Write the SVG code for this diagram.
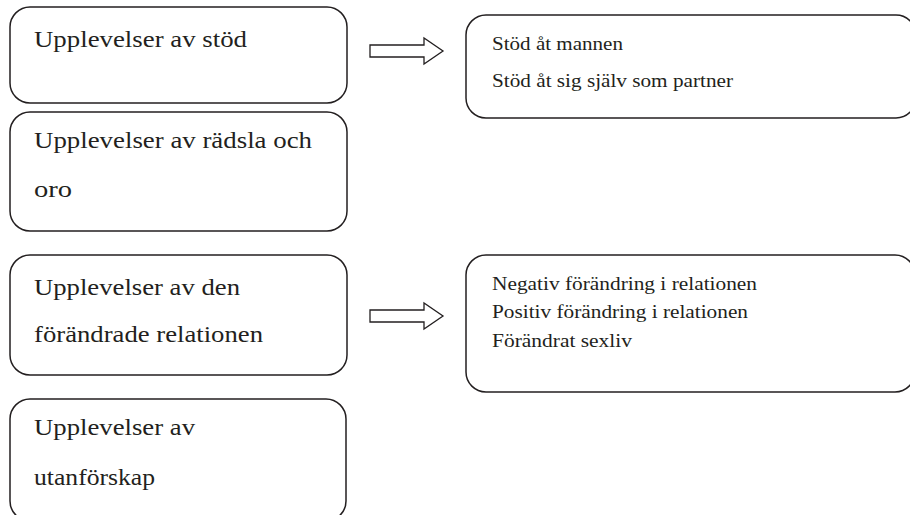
<svg xmlns="http://www.w3.org/2000/svg" width="910" height="515" viewBox="0 0 910 515">
<style>
.box{fill:#fff;stroke:#231f20;stroke-width:1.5}
.arr{fill:#fff;stroke:#231f20;stroke-width:1.3;stroke-linejoin:miter}
.big{font-family:"Liberation Serif","Times New Roman",serif;font-size:24px;fill:#231f20}
.sm{font-family:"Liberation Serif","Times New Roman",serif;font-size:18px;fill:#231f20}
</style>
<rect width="910" height="515" fill="#fff"/>
<g id="n1"><rect class="box" x="10" y="7" width="337" height="96" rx="20"/><text class="big" x="34" y="47" textLength="213" lengthAdjust="spacingAndGlyphs">Upplevelser av stöd</text></g>
<g id="n2"><rect class="box" x="10" y="112" width="337" height="119" rx="20"/><text class="big" x="34" y="148" textLength="278" lengthAdjust="spacingAndGlyphs">Upplevelser av rädsla och</text><text class="big" x="34" y="197" textLength="38" lengthAdjust="spacingAndGlyphs">oro</text></g>
<g id="n3"><rect class="box" x="10" y="255" width="337" height="120" rx="20"/><text class="big" x="34" y="295" textLength="206" lengthAdjust="spacingAndGlyphs">Upplevelser av den</text><text class="big" x="34" y="342" textLength="229" lengthAdjust="spacingAndGlyphs">förändrade relationen</text></g>
<g id="n4"><rect class="box" x="10" y="399" width="336" height="122" rx="20"/><text class="big" x="34" y="435" textLength="161" lengthAdjust="spacingAndGlyphs">Upplevelser av</text><text class="big" x="34" y="485" textLength="121" lengthAdjust="spacingAndGlyphs">utanförskap</text></g>
<g id="n5"><rect class="box" x="466" y="15" width="450" height="103" rx="20"/><text class="sm" x="492" y="50" textLength="131" lengthAdjust="spacingAndGlyphs">Stöd åt mannen</text><text class="sm" x="492" y="87" textLength="241" lengthAdjust="spacingAndGlyphs">Stöd åt sig själv som partner</text></g>
<g id="n6"><rect class="box" x="466" y="255" width="449" height="137" rx="20"/><text class="sm" x="492" y="290" textLength="265" lengthAdjust="spacingAndGlyphs">Negativ förändring i relationen</text><text class="sm" x="492" y="318" textLength="256" lengthAdjust="spacingAndGlyphs">Positiv förändring i relationen</text><text class="sm" x="492" y="347" textLength="140" lengthAdjust="spacingAndGlyphs">Förändrat sexliv</text></g>
<g id="connectors">
<polygon class="arr" points="370,45 424,45 424,38 443,51 424,64 424,57 370,57"/>
<polygon class="arr" points="370,310 424,310 424,303 443,316 424,329 424,322 370,322"/>
</g>
</svg>
